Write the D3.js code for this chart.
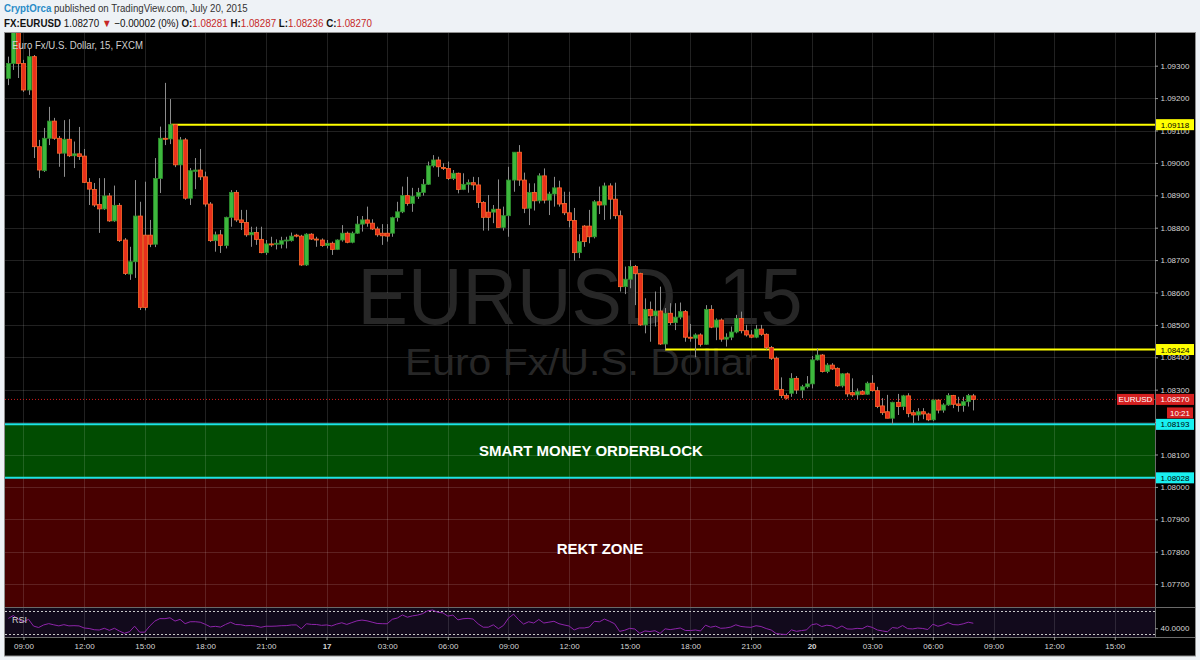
<!DOCTYPE html>
<html><head><meta charset="utf-8">
<script src="https://cdn.jsdelivr.net/npm/d3@7"></script>
<style>
html,body{margin:0;padding:0;background:#eef2f6;}
svg{display:block;}
</style></head><body>
<svg id="c" width="1200" height="660"></svg>
<script>
// ---------- DATA (EURUSD 15-min, FXCM) ----------
const openP = [1.09261,1.09307,1.09426,1.09307,1.09225,1.09328,1.09050,1.08976,1.09076,1.09129,1.09076,1.09030,1.09073,1.09022,1.09028,1.09021,1.08940,1.08918,1.08872,1.08858,1.08898,1.08821,1.08869,1.08762,1.08657,1.08695,1.08836,1.08777,1.08777,1.08749,1.08952,1.09076,1.09074,1.09118,1.08994,1.09071,1.08891,1.08974,1.08978,1.08957,1.08873,1.08760,1.08778,1.08745,1.08832,1.08909,1.08824,1.08816,1.08778,1.08785,1.08764,1.08723,1.08750,1.08749,1.08749,1.08759,1.08760,1.08777,1.08774,1.08685,1.08780,1.08765,1.08762,1.08745,1.08752,1.08733,1.08762,1.08783,1.08755,1.08783,1.08811,1.08824,1.08814,1.08796,1.08783,1.08783,1.08783,1.08831,1.08849,1.08899,1.08875,1.08897,1.08909,1.08934,1.08991,1.09009,1.08986,1.08983,1.08952,1.08968,1.08918,1.08934,1.08939,1.08932,1.08878,1.08848,1.08848,1.08857,1.08801,1.08837,1.08947,1.09033,1.08947,1.08860,1.08909,1.08883,1.08960,1.08885,1.08904,1.08923,1.08875,1.08846,1.08822,1.08723,1.08805,1.08805,1.08772,1.08880,1.08870,1.08929,1.08888,1.08837,1.08618,1.08641,1.08680,1.08659,1.08500,1.08548,1.08528,1.08543,1.08441,1.08536,1.08507,1.08524,1.08541,1.08462,1.08459,1.08469,1.08440,1.08548,1.08493,1.08515,1.08456,1.08462,1.08478,1.08520,1.08482,1.08469,1.08462,1.08487,1.08471,1.08430,1.08397,1.08301,1.08282,1.08289,1.08335,1.08299,1.08309,1.08318,1.08392,1.08407,1.08356,1.08376,1.08366,1.08312,1.08349,1.08291,1.08284,1.08294,1.08286,1.08320,1.08297,1.08250,1.08232,1.08212,1.08261,1.08248,1.08281,1.08229,1.08222,1.08232,1.08225,1.08207,1.08268,1.08237,1.08253,1.08282,1.08256,1.08251,1.08263,1.08281];
const highP = [1.09328,1.09441,1.09447,1.09318,1.09355,1.09333,1.09071,1.09108,1.09173,1.09139,1.09083,1.09132,1.09135,1.09066,1.09111,1.09043,1.08953,1.08938,1.08953,1.08953,1.08907,1.08930,1.08876,1.08768,1.08741,1.08947,1.08880,1.08942,1.08824,1.09015,1.09112,1.09247,1.09197,1.09120,1.09080,1.09077,1.08984,1.09015,1.09043,1.08973,1.08879,1.08788,1.08793,1.08834,1.08916,1.08916,1.08855,1.08855,1.08803,1.08803,1.08803,1.08762,1.08772,1.08764,1.08772,1.08772,1.08785,1.08781,1.08778,1.08783,1.08783,1.08772,1.08767,1.08762,1.08757,1.08764,1.08808,1.08788,1.08788,1.08836,1.08836,1.08865,1.08826,1.08803,1.08811,1.08811,1.08834,1.08880,1.08927,1.08957,1.08923,1.08923,1.08950,1.09004,1.09024,1.09019,1.08999,1.09004,1.08978,1.08970,1.08968,1.08949,1.08957,1.08956,1.08882,1.08901,1.08870,1.08949,1.08865,1.08988,1.09033,1.09055,1.08970,1.08937,1.08937,1.08968,1.08983,1.08911,1.08957,1.08945,1.08911,1.08911,1.08861,1.08780,1.08808,1.08855,1.08885,1.08927,1.08939,1.08937,1.08939,1.08853,1.08680,1.08700,1.08685,1.08661,1.08582,1.08572,1.08603,1.08618,1.08552,1.08567,1.08567,1.08569,1.08546,1.08503,1.08474,1.08474,1.08561,1.08561,1.08520,1.08520,1.08474,1.08495,1.08531,1.08541,1.08500,1.08484,1.08500,1.08500,1.08474,1.08435,1.08402,1.08338,1.08289,1.08351,1.08342,1.08315,1.08342,1.08404,1.08428,1.08410,1.08382,1.08382,1.08369,1.08351,1.08353,1.08335,1.08304,1.08299,1.08325,1.08345,1.08309,1.08274,1.08284,1.08263,1.08287,1.08284,1.08289,1.08237,1.08243,1.08243,1.08229,1.08270,1.08270,1.08258,1.08289,1.08284,1.08278,1.08278,1.08287,1.08287];
const lowP = [1.09240,1.09287,1.09262,1.09219,1.09210,1.09015,1.08953,1.08972,1.09055,1.09071,1.08988,1.08957,1.09018,1.08984,1.09009,1.08938,1.08870,1.08864,1.08784,1.08855,1.08818,1.08818,1.08756,1.08654,1.08639,1.08645,1.08546,1.08545,1.08740,1.08740,1.08907,1.09055,1.09058,1.08987,1.08916,1.08886,1.08870,1.08919,1.08947,1.08865,1.08756,1.08726,1.08722,1.08736,1.08803,1.08818,1.08793,1.08772,1.08741,1.08747,1.08721,1.08716,1.08741,1.08733,1.08736,1.08736,1.08757,1.08770,1.08682,1.08682,1.08762,1.08741,1.08741,1.08736,1.08716,1.08731,1.08757,1.08752,1.08752,1.08781,1.08788,1.08803,1.08793,1.08772,1.08747,1.08757,1.08772,1.08819,1.08845,1.08868,1.08849,1.08889,1.08899,1.08932,1.08986,1.08957,1.08978,1.08947,1.08947,1.08906,1.08916,1.08908,1.08916,1.08861,1.08791,1.08791,1.08814,1.08801,1.08791,1.08772,1.08911,1.08929,1.08845,1.08808,1.08853,1.08875,1.08875,1.08839,1.08865,1.08865,1.08839,1.08801,1.08698,1.08706,1.08741,1.08752,1.08767,1.08842,1.08824,1.08826,1.08827,1.08603,1.08595,1.08613,1.08561,1.08497,1.08474,1.08448,1.08495,1.08438,1.08424,1.08500,1.08484,1.08517,1.08448,1.08448,1.08400,1.08433,1.08438,1.08490,1.08453,1.08448,1.08433,1.08453,1.08474,1.08474,1.08464,1.08459,1.08459,1.08466,1.08423,1.08392,1.08299,1.08274,1.08270,1.08278,1.08287,1.08274,1.08304,1.08304,1.08390,1.08353,1.08351,1.08361,1.08309,1.08307,1.08278,1.08278,1.08270,1.08284,1.08284,1.08294,1.08243,1.08222,1.08212,1.08193,1.08222,1.08237,1.08215,1.08196,1.08204,1.08209,1.08203,1.08203,1.08227,1.08229,1.08250,1.08243,1.08232,1.08232,1.08248,1.08236];
const closeP = [1.09307,1.09426,1.09307,1.09225,1.09328,1.09050,1.08978,1.09076,1.09129,1.09076,1.09030,1.09073,1.09022,1.09028,1.09020,1.08940,1.08919,1.08870,1.08858,1.08898,1.08821,1.08869,1.08760,1.08659,1.08695,1.08836,1.08554,1.08554,1.08749,1.08952,1.09076,1.09073,1.09118,1.08994,1.09071,1.08891,1.08976,1.08978,1.08957,1.08873,1.08760,1.08778,1.08745,1.08832,1.08909,1.08824,1.08816,1.08778,1.08785,1.08764,1.08723,1.08750,1.08748,1.08752,1.08760,1.08762,1.08774,1.08775,1.08685,1.08780,1.08765,1.08763,1.08745,1.08752,1.08733,1.08762,1.08783,1.08755,1.08783,1.08811,1.08824,1.08814,1.08796,1.08778,1.08775,1.08774,1.08831,1.08849,1.08899,1.08875,1.08897,1.08909,1.08934,1.08991,1.09009,1.08988,1.08983,1.08952,1.08968,1.08918,1.08934,1.08939,1.08932,1.08878,1.08832,1.08832,1.08857,1.08801,1.08837,1.08947,1.09033,1.08947,1.08860,1.08909,1.08883,1.08960,1.08885,1.08904,1.08923,1.08873,1.08846,1.08822,1.08723,1.08757,1.08757,1.08772,1.08880,1.08870,1.08929,1.08888,1.08837,1.08618,1.08641,1.08680,1.08659,1.08500,1.08548,1.08528,1.08543,1.08441,1.08536,1.08507,1.08524,1.08541,1.08462,1.08459,1.08469,1.08440,1.08548,1.08493,1.08515,1.08456,1.08462,1.08478,1.08520,1.08482,1.08469,1.08462,1.08487,1.08471,1.08430,1.08397,1.08301,1.08282,1.08274,1.08335,1.08299,1.08309,1.08318,1.08392,1.08407,1.08356,1.08376,1.08364,1.08312,1.08349,1.08287,1.08284,1.08294,1.08286,1.08320,1.08297,1.08248,1.08229,1.08212,1.08261,1.08248,1.08281,1.08227,1.08222,1.08232,1.08225,1.08207,1.08268,1.08237,1.08253,1.08282,1.08255,1.08251,1.08263,1.08282,1.08270];

const tickLabels = ["09:00","12:00","15:00","18:00","21:00","17","03:00","06:00","09:00","12:00","15:00","18:00","21:00","20","03:00","06:00","09:00","12:00","15:00"];
const tickBars   = [3,15,27,39,51,63,75,87,99,111,123,135,147,159,171,183,195,207,219];
const dayLabels  = ["17","20"];
const priceTicks = [1.093,1.092,1.091,1.090,1.089,1.088,1.087,1.086,1.085,1.084,1.083,1.082,1.081,1.080,1.079,1.078,1.077];
const hiddenPriceLabels = [1.082];
const rsiTicks   = [40];
const rsiBands   = [70,30];
const rsiSeed    = [0.00040,0.00030];

const resistLevels = [1.09118,1.08424];
const resistStart  = [32,130];
const orderBlock   = [1.08193,1.08028];
const rektZone     = [1.08028,1.07550];
const lastPrice    = 1.08270;
const countdown    = "10:21";
const symbol       = "EURUSD";

// ---------- LAYOUT ----------
const W=1200,H=660;
const L=5,R=1155,T=33,MB=607,RT=608,RB=637,AB=656;
const FONT="'Liberation Sans', Arial, sans-serif";
const svg=d3.select('#c');
const n=closeP.length;
const x=d3.scaleLinear().domain([0,n-1]).range([8.3,973.3]);
const y=d3.scaleLinear().domain([1.077,1.093]).range([584.1,65.7]);
const yr=d3.scaleLinear().domain([30,70]).range([634,611]);

svg.append('rect').attr('width',W).attr('height',H).attr('fill','#eef2f6');
svg.append('rect').attr('x',4.5).attr('y',32.5).attr('width',1191).attr('height',623.5)
  .attr('fill','#000').attr('stroke','#8f8f8f');

const defs=svg.append('defs');
defs.append('clipPath').attr('id','cm').append('rect').attr('x',L).attr('y',T).attr('width',R-L).attr('height',MB-T);
defs.append('clipPath').attr('id','cr').append('rect').attr('x',L).attr('y',RT).attr('width',R-L).attr('height',RB-RT);

const main=svg.append('g').attr('clip-path','url(#cm)');

// zones
main.append('rect').attr('x',L).attr('width',R-L)
  .attr('y',y(rektZone[0])).attr('height',y(rektZone[1])-y(rektZone[0])).attr('fill','#480000');
main.append('rect').attr('x',L).attr('width',R-L)
  .attr('y',y(orderBlock[0])).attr('height',y(orderBlock[1])-y(orderBlock[0])).attr('fill','#014c01');

// grid
main.selectAll('.vg').data(tickBars).join('line')
  .attr('x1',d=>Math.round(x(d))+0.5).attr('x2',d=>Math.round(x(d))+0.5).attr('y1',T).attr('y2',MB)
  .attr('stroke','rgba(255,255,255,0.13)');
main.selectAll('.hg').data(priceTicks).join('line')
  .attr('y1',d=>Math.round(y(d))+0.5).attr('y2',d=>Math.round(y(d))+0.5).attr('x1',L).attr('x2',R)
  .attr('stroke','rgba(255,255,255,0.13)');

// watermark
main.append('text').text('EURUSD, 15').attr('x',580).attr('y',323.5).attr('text-anchor','middle')
  .attr('font-family',FONT).attr('font-size',79).attr('fill','#272727')
  .attr('textLength',445).attr('lengthAdjust','spacingAndGlyphs');
main.append('text').text('Euro Fx/U.S. Dollar').attr('x',581).attr('y',375).attr('text-anchor','middle')
  .attr('font-family',FONT).attr('font-size',37).attr('fill','#272727')
  .attr('textLength',352).attr('lengthAdjust','spacingAndGlyphs');

// zone texts
main.append('text').text('SMART MONEY ORDERBLOCK').attr('x',591).attr('y',456).attr('text-anchor','middle')
  .attr('font-family',FONT).attr('font-weight','bold').attr('font-size',15).attr('fill','#fff');
main.append('text').text('REKT ZONE').attr('x',600).attr('y',554).attr('text-anchor','middle')
  .attr('font-family',FONT).attr('font-weight','bold').attr('font-size',15).attr('fill','#fff');

// level lines
main.selectAll('.ob').data(orderBlock).join('line')
  .attr('x1',L).attr('x2',R).attr('y1',d=>y(d)).attr('y2',d=>y(d))
  .attr('stroke','#1ee3e3').attr('stroke-width',2);
main.selectAll('.rs').data(resistLevels).join('line')
  .attr('x1',(d,i)=>x(resistStart[i])).attr('x2',R).attr('y1',d=>y(d)).attr('y2',d=>y(d))
  .attr('stroke','#ffff00').attr('stroke-width',2);
main.append('line').attr('x1',L).attr('x2',R).attr('y1',y(lastPrice)).attr('y2',y(lastPrice))
  .attr('stroke','#d01c1c').attr('stroke-dasharray','1,2');

// candles
const idx=d3.range(n);
main.selectAll('.wick').data(idx).join('line')
  .attr('x1',i=>Math.round(x(i))+0.5).attr('x2',i=>Math.round(x(i))+0.5)
  .attr('y1',i=>y(highP[i])).attr('y2',i=>y(lowP[i]))
  .attr('stroke','#8c8c8c').attr('stroke-width',1);
main.selectAll('.body').data(idx).join('rect')
  .attr('x',i=>Math.round(x(i))-1.5).attr('width',4)
  .attr('y',i=>y(Math.max(openP[i],closeP[i])))
  .attr('height',i=>Math.max(1,Math.abs(y(openP[i])-y(closeP[i]))))
  .attr('fill',i=>closeP[i]>=openP[i]?'#3db83d':'#e8301c')
  .attr('stroke',i=>closeP[i]>=openP[i]?'#2f8f2f':'#ff6a2a').attr('stroke-width',0.8);

// pane title
svg.append('text').text('Euro Fx/U.S. Dollar, 15, FXCM').attr('x',12).attr('y',48.5)
  .attr('font-family',FONT).attr('font-size',10).attr('fill','#cfcfcf')
  .attr('textLength',131).attr('lengthAdjust','spacingAndGlyphs');

// RSI pane
svg.append('rect').attr('x',L).attr('y',RT).attr('width',R-L).attr('height',RB-RT).attr('fill','#120a1c');
const rg=svg.append('g').attr('clip-path','url(#cr)');
rg.selectAll('.vg').data(tickBars).join('line')
  .attr('x1',d=>Math.round(x(d))+0.5).attr('x2',d=>Math.round(x(d))+0.5).attr('y1',RT).attr('y2',RB)
  .attr('stroke','rgba(255,255,255,0.12)');
rg.selectAll('.band').data(rsiBands).join('line')
  .attr('x1',L).attr('x2',R).attr('y1',d=>Math.round(yr(d))+0.5).attr('y2',d=>Math.round(yr(d))+0.5)
  .attr('stroke','#c8c8c8').attr('stroke-dasharray','2,2');
const rsi=[];
{let ag=rsiSeed[0],al=rsiSeed[1];
 for(let i=0;i<n;i++){
   if(i>0){const d=closeP[i]-closeP[i-1];ag=(ag*13+Math.max(d,0))/14;al=(al*13+Math.max(-d,0))/14;}
   rsi.push(100-100/(1+ag/al));
 }}
rg.append('path').datum(rsi).attr('fill','none').attr('stroke','#8e24aa').attr('stroke-width',1)
  .attr('d',d3.line().x((d,i)=>x(i)).y(d=>yr(d)));
svg.append('text').text('RSI').attr('x',12).attr('y',623).attr('font-family',FONT)
  .attr('font-size',9).attr('fill','#d0d0d0');

// separators
svg.append('line').attr('x1',L).attr('x2',1195).attr('y1',607.5).attr('y2',607.5).attr('stroke','#6a6a6a');
svg.append('line').attr('x1',L).attr('x2',1195).attr('y1',637.5).attr('y2',637.5).attr('stroke','#6a6a6a');
svg.append('line').attr('x1',R+0.5).attr('x2',R+0.5).attr('y1',T).attr('y2',RB).attr('stroke','#6a6a6a');

// axes
function styleAxis(g){
  g.select('.domain').remove();
  g.selectAll('text').attr('font-family',FONT).attr('font-size',8).attr('fill','#d6d6d6');
  g.selectAll('line').attr('stroke','#9a9a9a');
}
const ya=svg.append('g').attr('transform',`translate(${R},0)`)
  .call(d3.axisRight(y).tickValues(priceTicks).tickFormat(d3.format('.5f')).tickSize(3).tickPadding(2.5))
  .call(styleAxis);
ya.selectAll('.tick').filter(d=>hiddenPriceLabels.some(h=>Math.abs(h-d)<1e-9)).select('text').remove();
svg.append('g').attr('transform',`translate(${R},0)`)
  .call(d3.axisRight(yr).tickValues(rsiTicks).tickFormat(d3.format('.4f')).tickSize(3).tickPadding(2.5))
  .call(styleAxis);
svg.append('g').attr('transform',`translate(0,${RB})`)
  .call(d3.axisBottom(x).tickValues(tickBars).tickFormat((d,i)=>tickLabels[i]).tickSize(3).tickPadding(3.5))
  .call(styleAxis)
  .selectAll('text').attr('font-weight',d=>dayLabels.includes(tickLabels[tickBars.indexOf(d)])?'bold':null);

// axis label boxes
function box(xl,yc,w,fill,txt,tfill){
  const g=svg.append('g');
  g.append('rect').attr('x',xl).attr('y',yc-5.5).attr('width',w).attr('height',11).attr('fill',fill);
  g.append('text').text(txt).attr('x',xl+w/2).attr('y',yc+3).attr('text-anchor','middle')
    .attr('font-family',FONT).attr('font-size',8).attr('fill',tfill);
}
resistLevels.forEach(v=>box(R+1,y(v),38,'#ffff00',d3.format('.5f')(v),'#000'));
orderBlock.forEach(v=>box(R+1,y(v),38,'#19f0f0',d3.format('.5f')(v),'#000'));
box(R+1,y(lastPrice),38,'#d42020',d3.format('.5f')(lastPrice),'#fff');
box(1117,y(lastPrice),37,'#d42020',symbol,'#fff');
box(1167,y(lastPrice)+13.5,26,'#d42020',countdown,'#fff');

// header (horizontally fitted with a scale transform)
function fitLine(yb,target,build){
  const g=svg.append('g');
  const t=g.append('text').attr('x',0).attr('y',0).attr('font-family',FONT).attr('font-size',11);
  build(t);
  const w=t.node().getComputedTextLength();
  g.attr('transform',`translate(4,${yb}) scale(${target/w},1)`);
}
fitLine(11.5,244,t=>{
  t.append('tspan').text('CryptOrca').attr('fill','#2a8cc8').attr('font-weight','bold');
  t.append('tspan').text(' published on TradingView.com, July 20, 2015').attr('fill','#333');
});
fitLine(26.5,368,t=>{
  t.append('tspan').text('FX:EURUSD').attr('font-weight','bold').attr('fill','#111');
  t.append('tspan').text(' 1.08270 ').attr('fill','#111');
  t.append('tspan').text('▼').attr('fill','#c62828');
  t.append('tspan').text(' −0.00002 (0%) ').attr('fill','#111');
  [['O:',openP[n-1]],['H:',highP[n-1]],['L:',lowP[n-1]],['C:',closeP[n-1]]].forEach(([k,v],i)=>{
    t.append('tspan').text((i?' ':'')+k).attr('font-weight','bold').attr('fill','#111');
    t.append('tspan').text(d3.format('.5f')(v)).attr('fill','#c62828');
  });
});
</script>
</body></html>
